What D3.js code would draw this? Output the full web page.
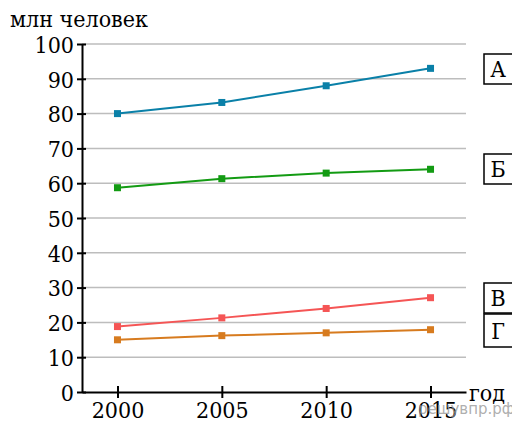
<!DOCTYPE html>
<html>
<head>
<meta charset="utf-8">
<script src="https://cdn.jsdelivr.net/npm/d3@7"></script>
<style>
  body { margin: 0; background: #fff; }
  svg text.serif { font-family: "DejaVu Serif Condensed", "DejaVu Serif", serif; font-stretch: condensed; }
</style>
</head>
<body>
<div id="chart"></div>
<script>
// data
var years = [2000, 2005, 2010, 2015];
var seriesA = [80, 83.2, 88, 93];
var seriesB = [58.7, 61.3, 62.9, 64];
var seriesV = [18.8, 21.3, 24, 27.1];
var seriesG = [15, 16.2, 17, 17.9];
var seriesNames = ["А", "Б", "В", "Г"];
var yTicks = [0, 10, 20, 30, 40, 50, 60, 70, 80, 90, 100];

var width = 512, height = 421;
var fs = 23;
var colors = ["#0a80a8", "#139b13", "#f55555", "#d77b1f"];
var allSeries = [seriesA, seriesB, seriesV, seriesG];

var svg = d3.select("#chart").append("svg")
    .attr("width", width)
    .attr("height", height);

// scales
var xScale = d3.scaleLinear().domain([1998.3, 2016.7]).range([82, 466]);
var yScale = d3.scaleLinear().domain([0, 100]).range([392, 44]);

// gridlines
svg.append("g").selectAll("line")
    .data(yTicks.filter(function(d) { return d > 0; }))
    .enter().append("line")
    .attr("x1", 82).attr("x2", 466)
    .attr("y1", function(d) { return yScale(d); })
    .attr("y2", function(d) { return yScale(d); })
    .attr("stroke", "#bdbdbd")
    .attr("stroke-width", 1.5);

// y axis
var yAxis = d3.axisLeft(yScale).tickValues(yTicks).tickSizeInner(5).tickSizeOuter(0).tickPadding(3);
var gy = svg.append("g").attr("transform", "translate(82,0)").call(yAxis);
gy.select(".domain").attr("stroke", "#000").attr("stroke-width", 2);
gy.selectAll(".tick line").attr("stroke", "#000").attr("stroke-width", 2).attr("x1", 4);
gy.selectAll(".tick text").attr("class", "serif").attr("font-size", fs).attr("fill", "#000")
    .attr("font-family", null).attr("dy", "0.36em");

// x axis
var xAxis = d3.axisBottom(xScale).tickValues(years).tickFormat(d3.format("d")).tickSizeInner(6).tickSizeOuter(0).tickPadding(4);
var gx = svg.append("g").attr("transform", "translate(0,392)").call(xAxis);
gx.select(".domain").attr("stroke", "#000").attr("stroke-width", 2);
gx.selectAll(".tick line").attr("stroke", "#000").attr("stroke-width", 2).attr("y1", -6);
gx.selectAll(".tick text").attr("class", "serif").attr("font-size", fs).attr("fill", "#000")
    .attr("font-family", null);

// axis titles
svg.append("text").attr("class", "serif").attr("x", 10).attr("y", 27).attr("font-size", fs).text("млн человек");
svg.append("text").attr("class", "serif").attr("x", 469).attr("y", 401).attr("font-size", fs).text("год");

// lines + markers
var line = d3.line()
    .x(function(d, i) { return xScale(years[i]); })
    .y(function(d) { return yScale(d); });

allSeries.forEach(function(s, k) {
    svg.append("path")
        .datum(s)
        .attr("fill", "none")
        .attr("stroke", colors[k])
        .attr("stroke-width", 2)
        .attr("d", line);
    svg.append("g").selectAll("rect")
        .data(s)
        .enter().append("rect")
        .attr("x", function(d, i) { return xScale(years[i]) - 3.5; })
        .attr("y", function(d) { return yScale(d) - 3.5; })
        .attr("width", 7).attr("height", 7)
        .attr("fill", colors[k]);
});

// series labels in boxes
var boxTop = [54, 154, 283, 314];
var boxH = [30, 30, 30, 33];
seriesNames.forEach(function(n, k) {
    var g = svg.append("g").attr("transform", "translate(484," + boxTop[k] + ")");
    g.append("rect").attr("width", 32).attr("height", boxH[k])
        .attr("fill", "#fff").attr("stroke", "#000").attr("stroke-width", 1.5);
    g.append("text").attr("class", "serif").attr("x", 14).attr("y", boxH[k] / 2 + 8)
        .attr("text-anchor", "middle").attr("font-size", fs).text(n);
});

// watermark
svg.append("text").attr("x", 418).attr("y", 414)
    .attr("font-family", "DejaVu Sans, sans-serif").attr("font-size", 15)
    .attr("fill", "#999").attr("fill-opacity", 0.8).text("решувпр.рф");
</script>
</body>
</html>
